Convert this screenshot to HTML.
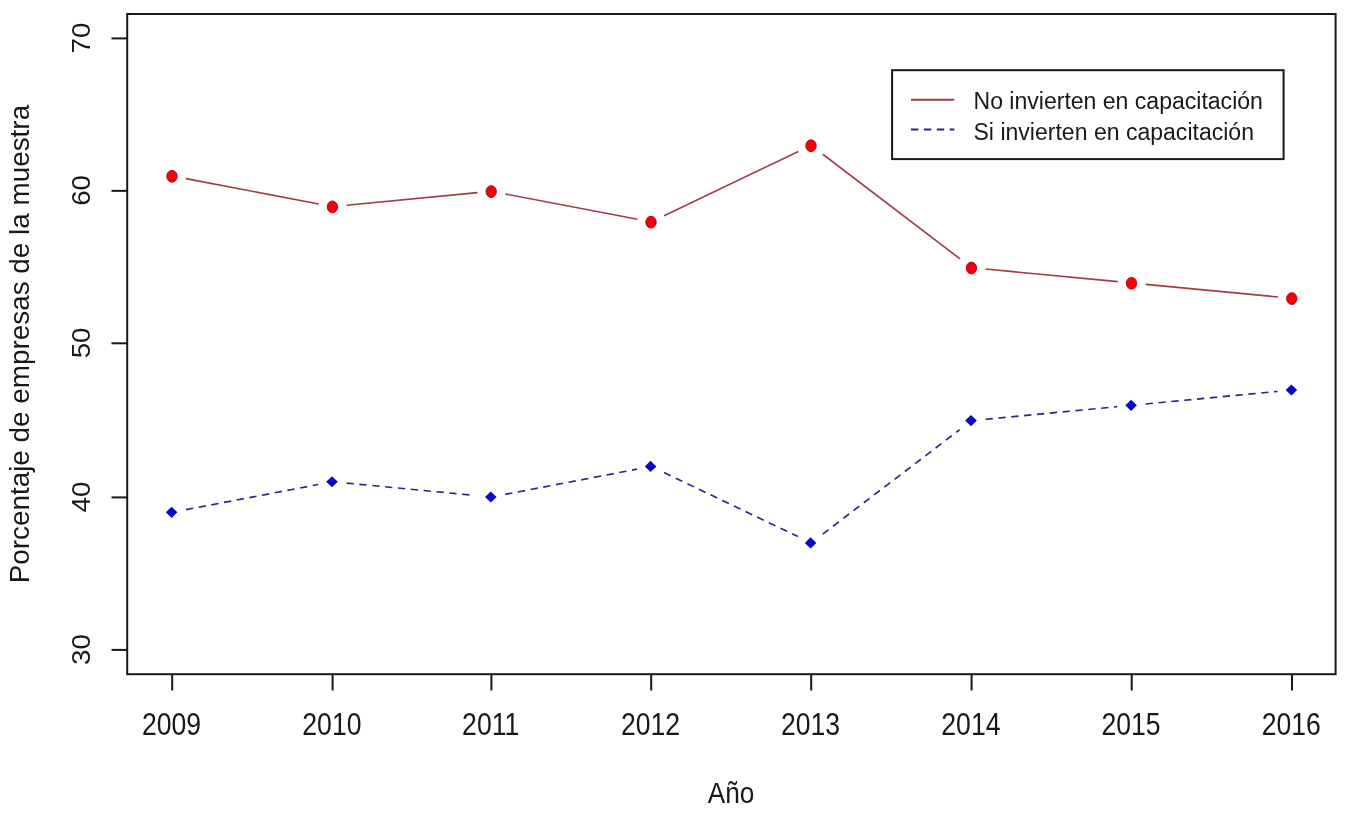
<!DOCTYPE html>
<html lang="es"><head><meta charset="utf-8"><title>Porcentaje de empresas de la muestra</title>
<style>html,body{margin:0;padding:0;background:#fff;overflow:hidden}svg{display:block}text{font-family:"Liberation Sans",Arial,sans-serif;fill:#181818}</style>
</head><body>
<svg width="1351" height="814" viewBox="0 0 1351 814">
<rect x="0" y="0" width="1351" height="814" fill="#ffffff"/>
<rect x="127.20" y="14.00" width="1208.40" height="660.20" fill="none" stroke="#181818" stroke-width="2"/>
<line x1="111.50" y1="649.90" x2="127.20" y2="649.90" stroke="#181818" stroke-width="2"/>
<line x1="111.50" y1="497.40" x2="127.20" y2="497.40" stroke="#181818" stroke-width="2"/>
<line x1="111.50" y1="343.30" x2="127.20" y2="343.30" stroke="#181818" stroke-width="2"/>
<line x1="111.50" y1="190.85" x2="127.20" y2="190.85" stroke="#181818" stroke-width="2"/>
<line x1="111.50" y1="38.40" x2="127.20" y2="38.40" stroke="#181818" stroke-width="2"/>
<line x1="172.20" y1="674.20" x2="172.20" y2="690.50" stroke="#181818" stroke-width="2"/>
<line x1="332.60" y1="674.20" x2="332.60" y2="690.50" stroke="#181818" stroke-width="2"/>
<line x1="491.40" y1="674.20" x2="491.40" y2="690.50" stroke="#181818" stroke-width="2"/>
<line x1="651.20" y1="674.20" x2="651.20" y2="690.50" stroke="#181818" stroke-width="2"/>
<line x1="811.20" y1="674.20" x2="811.20" y2="690.50" stroke="#181818" stroke-width="2"/>
<line x1="971.60" y1="674.20" x2="971.60" y2="690.50" stroke="#181818" stroke-width="2"/>
<line x1="1131.70" y1="674.20" x2="1131.70" y2="690.50" stroke="#181818" stroke-width="2"/>
<line x1="1292.00" y1="674.20" x2="1292.00" y2="690.50" stroke="#181818" stroke-width="2"/>
<line x1="186.00" y1="178.62" x2="318.80" y2="203.93" stroke="#a03c44" stroke-width="1.6"/>
<line x1="346.55" y1="205.22" x2="477.45" y2="192.62" stroke="#a03c44" stroke-width="1.6"/>
<line x1="505.20" y1="193.92" x2="637.40" y2="219.21" stroke="#a03c44" stroke-width="1.6"/>
<line x1="664.08" y1="215.70" x2="798.32" y2="151.56" stroke="#a03c44" stroke-width="1.6"/>
<line x1="822.77" y1="154.24" x2="960.03" y2="258.89" stroke="#a03c44" stroke-width="1.6"/>
<line x1="985.55" y1="269.04" x2="1117.75" y2="281.67" stroke="#a03c44" stroke-width="1.6"/>
<line x1="1145.65" y1="284.33" x2="1278.05" y2="296.96" stroke="#a03c44" stroke-width="1.6"/>
<line x1="186.00" y1="509.68" x2="318.31" y2="484.46" stroke="#262684" stroke-width="1.65" stroke-dasharray="7.3 5.6"/>
<line x1="346.55" y1="483.08" x2="469.38" y2="494.91" stroke="#262684" stroke-width="1.65" stroke-dasharray="7.3 5.6"/>
<line x1="505.20" y1="494.38" x2="636.91" y2="469.18" stroke="#262684" stroke-width="1.65" stroke-dasharray="7.3 5.6"/>
<line x1="664.08" y1="472.60" x2="797.86" y2="536.52" stroke="#262684" stroke-width="1.65" stroke-dasharray="7.3 5.6"/>
<line x1="822.77" y1="534.06" x2="959.61" y2="429.73" stroke="#262684" stroke-width="1.65" stroke-dasharray="7.3 5.6"/>
<line x1="985.55" y1="419.26" x2="1117.25" y2="406.68" stroke="#262684" stroke-width="1.65" stroke-dasharray="7.3 5.6"/>
<line x1="1145.65" y1="403.97" x2="1277.55" y2="391.39" stroke="#262684" stroke-width="1.65" stroke-dasharray="7.3 5.6"/>
<ellipse cx="172.00" cy="176.29" rx="5.2" ry="5.9" fill="#f4000a" stroke="#c40814" stroke-width="1"/>
<ellipse cx="332.40" cy="206.86" rx="5.2" ry="5.9" fill="#f4000a" stroke="#c40814" stroke-width="1"/>
<ellipse cx="491.20" cy="191.58" rx="5.2" ry="5.9" fill="#f4000a" stroke="#c40814" stroke-width="1"/>
<ellipse cx="651.00" cy="222.15" rx="5.2" ry="5.9" fill="#f4000a" stroke="#c40814" stroke-width="1"/>
<ellipse cx="811.00" cy="145.71" rx="5.2" ry="5.9" fill="#f4000a" stroke="#c40814" stroke-width="1"/>
<ellipse cx="971.40" cy="268.01" rx="5.2" ry="5.9" fill="#f4000a" stroke="#c40814" stroke-width="1"/>
<ellipse cx="1131.50" cy="283.30" rx="5.2" ry="5.9" fill="#f4000a" stroke="#c40814" stroke-width="1"/>
<ellipse cx="1291.80" cy="298.59" rx="5.2" ry="5.9" fill="#f4000a" stroke="#c40814" stroke-width="1"/>
<polygon points="165.80,512.31 171.60,506.71 177.40,512.31 171.60,517.91" fill="#0808c8"/>
<polygon points="326.20,481.74 332.00,476.14 337.80,481.74 332.00,487.34" fill="#0808c8"/>
<polygon points="485.00,497.02 490.80,491.42 496.60,497.02 490.80,502.62" fill="#0808c8"/>
<polygon points="644.80,466.45 650.60,460.85 656.40,466.45 650.60,472.05" fill="#0808c8"/>
<polygon points="804.80,542.89 810.60,537.29 816.40,542.89 810.60,548.49" fill="#0808c8"/>
<polygon points="965.20,420.59 971.00,414.99 976.80,420.59 971.00,426.19" fill="#0808c8"/>
<polygon points="1125.30,405.30 1131.10,399.70 1136.90,405.30 1131.10,410.90" fill="#0808c8"/>
<polygon points="1285.60,390.01 1291.40,384.41 1297.20,390.01 1291.40,395.61" fill="#0808c8"/>
<text transform="translate(171.50,735.10) scale(1,1.165)" font-size="26.60" text-anchor="middle">2009</text>
<text transform="translate(331.90,735.10) scale(1,1.165)" font-size="26.60" text-anchor="middle">2010</text>
<text transform="translate(490.70,735.10) scale(1,1.165)" font-size="26.60" text-anchor="middle">2011</text>
<text transform="translate(650.50,735.10) scale(1,1.165)" font-size="26.60" text-anchor="middle">2012</text>
<text transform="translate(810.50,735.10) scale(1,1.165)" font-size="26.60" text-anchor="middle">2013</text>
<text transform="translate(970.90,735.10) scale(1,1.165)" font-size="26.60" text-anchor="middle">2014</text>
<text transform="translate(1131.00,735.10) scale(1,1.165)" font-size="26.60" text-anchor="middle">2015</text>
<text transform="translate(1291.30,735.10) scale(1,1.165)" font-size="26.60" text-anchor="middle">2016</text>
<text transform="translate(90.45,649.50) scale(1,1.043) rotate(-90)" font-size="26.60" text-anchor="middle">30</text>
<text transform="translate(90.45,497.00) scale(1,1.043) rotate(-90)" font-size="26.60" text-anchor="middle">40</text>
<text transform="translate(90.45,342.90) scale(1,1.043) rotate(-90)" font-size="26.60" text-anchor="middle">50</text>
<text transform="translate(90.45,190.45) scale(1,1.043) rotate(-90)" font-size="26.60" text-anchor="middle">60</text>
<text transform="translate(90.45,38.00) scale(1,1.043) rotate(-90)" font-size="26.60" text-anchor="middle">70</text>
<text transform="translate(731.00,803.30) scale(1,1.150)" font-size="26.20" text-anchor="middle">Año</text>
<text transform="translate(29.30,344.10) scale(1,0.992) rotate(-90)" font-size="28.10" text-anchor="middle">Porcentaje de empresas de la muestra</text>
<rect x="892.10" y="70.20" width="391.50" height="88.90" fill="#ffffff" stroke="#181818" stroke-width="2"/>
<line x1="911" y1="99.7" x2="954.3" y2="99.7" stroke="#a03c44" stroke-width="2"/>
<line x1="911" y1="129.5" x2="954.3" y2="129.5" stroke="#262684" stroke-width="2" stroke-dasharray="7.3 5.6"/>
<text transform="translate(973.50,108.80) scale(1,1.020)" font-size="23.05">No invierten en capacitación</text>
<text transform="translate(973.50,140.40) scale(1,1.010)" font-size="23.05">Si invierten en capacitación</text>
</svg>
</body></html>
